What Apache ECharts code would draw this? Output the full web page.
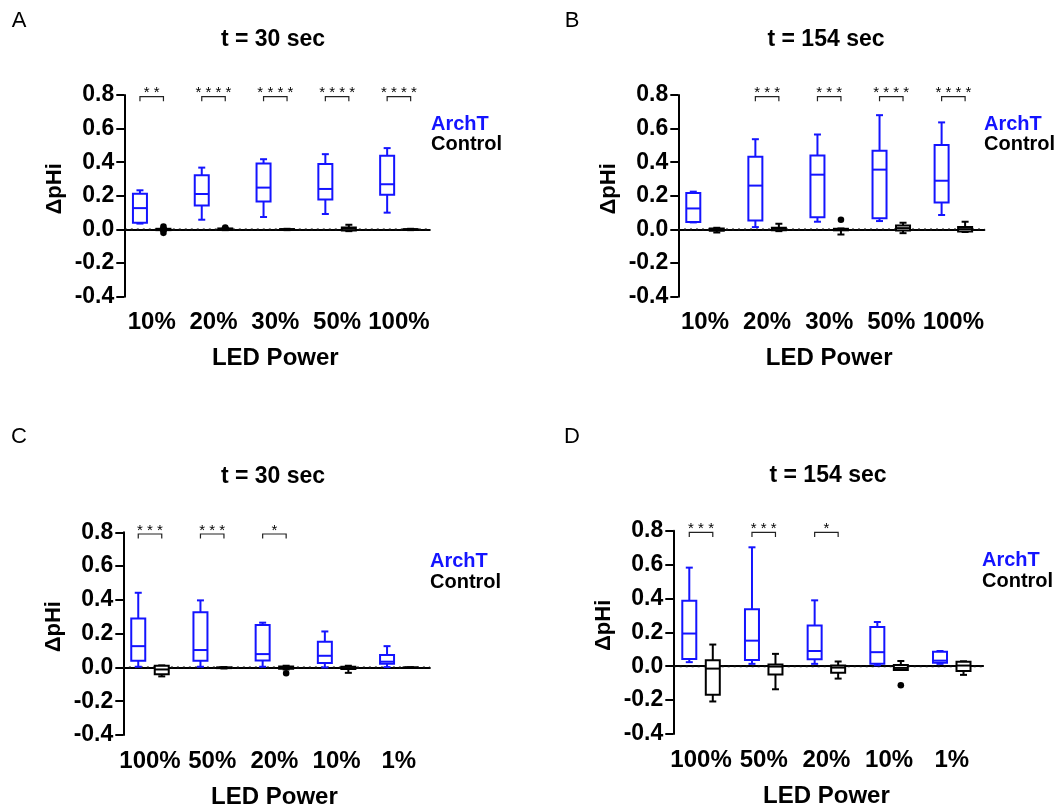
<!DOCTYPE html>
<html><head><meta charset="utf-8">
<script src="https://cdn.jsdelivr.net/npm/echarts@6/dist/echarts.min.js"></script>
<style>html,body{margin:0;padding:0;background:#fff}#c{width:1060px;height:810px}</style>
</head><body><div id="c"></div>
<script>
// ---------- DATA ----------
const catsAB = ['10%', '20%', '30%', '50%', '100%'];
const catsCD = ['100%', '50%', '20%', '10%', '1%'];
const yMin = -0.4, yMax = 0.8, yStep = 0.2;
const sigLevel = 0.8;

// box stats: [min, Q1, median, Q3, max]
const archT_A = [[0.035,0.04,0.127,0.213,0.233],[0.058,0.143,0.211,0.322,0.368],[0.074,0.167,0.249,0.392,0.418],[0.092,0.179,0.241,0.39,0.448],[0.1,0.207,0.269,0.438,0.484]];
const control_A = [[-0.008,-0.004,0,0.004,0.008],[-0.004,0,0.003,0.006,0.01],[-0.004,-0.002,0,0.002,0.004],[-0.01,-0.006,0.004,0.012,0.028],[-0.004,-0.002,0,0.002,0.004]];
const outliers_A = [[0,-0.02],[0,0.018],[1,0.012]];
const sig_A = ['**','****','****','****','****'];

const archT_B = [[0.042,0.044,0.125,0.217,0.225],[0.014,0.054,0.261,0.432,0.537],[0.046,0.072,0.326,0.44,0.565],[0.05,0.066,0.356,0.468,0.68],[0.086,0.161,0.29,0.503,0.637]];
const control_B = [[-0.018,-0.008,0,0.006,0.01],[-0.01,-0.004,0.004,0.01,0.034],[-0.03,-0.005,0,0.004,0.006],[-0.022,-0.006,0.008,0.024,0.04],[-0.015,-0.012,0.002,0.014,0.046]];
const outliers_B = [[2,0.058]];
const sig_B = ['','***','***','****','****'];

const archT_C = [[0.004,0.04,0.126,0.29,0.442],[0.004,0.04,0.103,0.326,0.397],[0.004,0.041,0.079,0.251,0.265],[0.0,0.026,0.069,0.152,0.213],[0.002,0.022,0.034,0.073,0.126]];
const control_C = [[-0.053,-0.04,-0.012,0.01,0.012],[-0.006,-0.004,-0.002,0,0.002],[-0.012,-0.008,0,0.005,0.01],[-0.032,-0.01,-0.004,0.004,0.01],[-0.003,-0.002,-0.001,0,0.001]];
const outliers_C = [[2,-0.034]];
const sig_C = ['***','***','*','',''];

const archT_D = [[0.024,0.043,0.193,0.387,0.582],[0.014,0.037,0.151,0.336,0.702],[0.014,0.041,0.09,0.24,0.389],[0.006,0.014,0.083,0.232,0.261],[0.014,0.02,0.033,0.085,0.09]];
const control_D = [[-0.208,-0.169,-0.014,0.035,0.128],[-0.136,-0.049,-0.002,0.01,0.073],[-0.073,-0.039,-0.008,0.004,0.028],[-0.022,-0.022,-0.01,0.008,0.031],[-0.051,-0.028,0.004,0.026,0.029]];
const outliers_D = [[3,-0.112]];
const sig_D = ['***','***','*','',''];

const panelTitles = ['t = 30 sec', 't = 154 sec', 't = 30 sec', 't = 154 sec'];
const panelLetters = ['A', 'B', 'C', 'D'];
const seriesNames = ['ArchT', 'Control'];

// ---------- STYLE / LAYOUT ----------
const FONT = '"Liberation Sans", Arial, Helvetica, sans-serif';
const BLUE = '#1414ff';
const BLACK = '#000';
const panels = [
  {cats: catsAB, a: archT_A, c: control_A, o: outliers_A, s: sig_A, grid: {left: 120.8, top: 95, width: 309, height: 201.7}, yOff: -3.5,
   title: [273, 40], letter: [19, 21], legend: [431, 124, 144.5]},
  {cats: catsAB, a: archT_B, c: control_B, o: outliers_B, s: sig_B, grid: {left: 674, top: 95, width: 310.4, height: 201.7}, yOff: -4.3,
   title: [826, 40], letter: [572, 21], legend: [984, 124, 144.5]},
  {cats: catsCD, a: archT_C, c: control_C, o: outliers_C, s: sig_C, grid: {left: 118.9, top: 532.3, width: 311, height: 202.7}, yOff: -4.4,
   title: [273, 477], letter: [19, 437], legend: [430, 561, 582]},
  {cats: catsCD, a: archT_D, c: control_D, o: outliers_D, s: sig_D, grid: {left: 669.7, top: 530.7, width: 313.4, height: 203.3}, yOff: -3.6,
   title: [828, 476], letter: [572, 437], legend: [982, 560, 581]}
];
const OFF = 11.75, BOXW = 14, CAPW = 7;

function boxRender(offset, color) {
  return function (params, api) {
    const c = api.value(0);
    const x = api.coord([c, 0])[0] + offset;
    const y = i => api.coord([c, api.value(i)])[1];
    const vMin = y(1), q1 = y(2), med = y(3), q3 = y(4), vMax = y(5);
    const st = {stroke: color, lineWidth: 2};
    return {type: 'group', children: [
      {type: 'line', shape: {x1: x, y1: vMax, x2: x, y2: q3}, style: st},
      {type: 'line', shape: {x1: x, y1: q1, x2: x, y2: vMin}, style: st},
      {type: 'line', shape: {x1: x - CAPW / 2, y1: vMax, x2: x + CAPW / 2, y2: vMax}, style: st},
      {type: 'line', shape: {x1: x - CAPW / 2, y1: vMin, x2: x + CAPW / 2, y2: vMin}, style: st},
      {type: 'rect', shape: {x: x - BOXW / 2, y: q3, width: BOXW, height: Math.max(q1 - q3, 0.5)}, style: {stroke: color, lineWidth: 2, fill: '#fff'}},
      {type: 'line', shape: {x1: x - BOXW / 2, y1: med, x2: x + BOXW / 2, y2: med}, style: st}
    ]};
  };
}
function outlierRender(offset) {
  return function (params, api) {
    const p = api.coord([api.value(0), api.value(1)]);
    return {type: 'circle', shape: {cx: p[0] + offset, cy: p[1], r: 3.3}, style: {fill: BLACK}};
  };
}
function zeroRender(params, api) {
  const cs = params.coordSys;
  const y = api.coord([0, 0])[1];
  return {type: 'line', shape: {x1: cs.x + 4, y1: y, x2: cs.x + cs.width, y2: y},
    style: {stroke: '#111', lineWidth: 2, lineDash: [2, 4]}};
}
function sigRender(labels) {
  return function (params, api) {
    const txt = labels[params.dataIndex];
    if (!txt) return null;
    const p = api.coord([api.value(0), api.value(1)]);
    const x1 = p[0] - OFF, x2 = p[0] + OFF, y = p[1] + 1.7;
    return {type: 'group', children: [
      {type: 'polyline', shape: {points: [[x1, y + 4.5], [x1, y], [x2, y], [x2, y + 4.5]]}, style: {stroke: '#222', lineWidth: 1.2, fill: null}},
      {type: 'text', style: {text: txt.split('').join(' '), x: p[0], y: y - 3.5, align: 'center', verticalAlign: 'middle', font: '15px ' + FONT, fill: '#000'}}
    ]};
  };
}

const grids = [], xAxes = [], yAxes = [], series = [], graphics = [];
panels.forEach((P, k) => {
  grids.push(Object.assign({containLabel: false}, P.grid));
  xAxes.push({
    type: 'category', gridIndex: k, data: P.cats, boundaryGap: true,
    name: 'LED Power', nameLocation: 'middle', nameGap: 50,
    nameTextStyle: {fontFamily: FONT, fontWeight: 'bold', fontSize: 24, color: BLACK},
    axisLine: {lineStyle: {color: BLACK, width: 2}},
    axisTick: {alignWithLabel: true, length: 7, lineStyle: {color: BLACK, width: 2}},
    axisLabel: {interval: 0, margin: 14, fontFamily: FONT, fontWeight: 'bold', fontSize: 24, color: BLACK},
    splitLine: {show: false}
  });
  yAxes.push({
    type: 'value', gridIndex: k, min: yMin, max: yMax, interval: yStep, offset: P.yOff,
    name: 'ΔpHi', nameLocation: 'middle', nameGap: 58, nameRotate: 90,
    nameTextStyle: {fontFamily: FONT, fontWeight: 'bold', fontSize: 22, color: BLACK, padding: [0, 0, 0, 14]},
    axisLine: {show: true, lineStyle: {color: BLACK, width: 2}},
    axisTick: {show: true, length: 8, lineStyle: {color: BLACK, width: 2}},
    axisLabel: {margin: 10, fontFamily: FONT, fontWeight: 'bold', fontSize: 23, color: BLACK,
      formatter: v => v.toFixed(1)},
    splitLine: {show: false}
  });
  series.push({type: 'custom', xAxisIndex: k, yAxisIndex: k, data: [[0, 0]], renderItem: zeroRender, silent: true, z: 1});
  series.push({type: 'custom', name: seriesNames[0], xAxisIndex: k, yAxisIndex: k, z: 3,
    data: P.a.map((s, i) => [i].concat(s)), encode: {x: 0, y: [1, 2, 3, 4, 5]}, renderItem: boxRender(-OFF, BLUE)});
  series.push({type: 'custom', name: seriesNames[1], xAxisIndex: k, yAxisIndex: k, z: 3,
    data: P.c.map((s, i) => [i].concat(s)), encode: {x: 0, y: [1, 2, 3, 4, 5]}, renderItem: boxRender(OFF, BLACK)});
  series.push({type: 'custom', xAxisIndex: k, yAxisIndex: k, z: 4,
    data: P.o.map(o => o.slice()), encode: {x: 0, y: 1}, renderItem: outlierRender(OFF)});
  series.push({type: 'custom', xAxisIndex: k, yAxisIndex: k, z: 5, clip: false,
    data: P.s.map((s, i) => [i, sigLevel]), encode: {x: 0, y: 1}, renderItem: sigRender(P.s)});

  graphics.push({type: 'text', style: {
    text: panelTitles[k], x: P.title[0], y: P.title[1], align: 'center', verticalAlign: 'middle',
    font: 'bold 23px ' + FONT, fill: BLACK}});
  graphics.push({type: 'text', style: {
    text: panelLetters[k], x: P.letter[0], y: P.letter[1], align: 'center', verticalAlign: 'middle',
    font: '22px ' + FONT, fill: BLACK}});
  graphics.push({type: 'text', style: {
    text: seriesNames[0], x: P.legend[0], y: P.legend[1], align: 'left', verticalAlign: 'middle',
    font: 'bold 20px ' + FONT, fill: BLUE}});
  graphics.push({type: 'text', style: {
    text: seriesNames[1], x: P.legend[0], y: P.legend[2], align: 'left', verticalAlign: 'middle',
    font: 'bold 20px ' + FONT, fill: BLACK}});
});

const chart = echarts.init(document.getElementById('c'), null, {renderer: 'canvas'});
chart.setOption({
  backgroundColor: '#fff',
  animation: false,
  grid: grids, xAxis: xAxes, yAxis: yAxes, series: series,
  graphic: {elements: graphics}
});
</script></body></html>
